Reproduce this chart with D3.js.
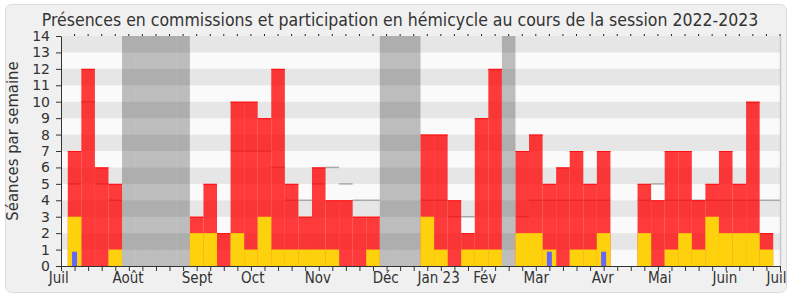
<!DOCTYPE html>
<html>
<head>
<meta charset="utf-8">
<script src="https://cdn.jsdelivr.net/npm/d3@7"></script>
<style>
  html, body { margin: 0; padding: 0; background: #ffffff; }
  svg { display: block; }
  text { font-family: 'DejaVu Sans Condensed', 'DejaVu Sans', sans-serif; font-stretch: condensed; fill: #333; }
  .ytick text { font-family: 'DejaVu Sans', sans-serif; font-stretch: normal; }
</style>
</head>
<body>
<svg id="chart" width="790" height="300"></svg>
<script>
// ---- data (week index 1..52 of the session) ----
const weeks = d3.range(1, 53);
const hemicycle = [7,12,6,5,0,0,0,0,0,3,5,2,10,10,9,12,5,3,6,4,4,3,3,0,0,0,8,8,4,2,9,12,0,7,8,5,6,7,5,7,0,0,5,4,7,7,4,5,7,5,10,2];
const commission = [3,0,0,1,0,0,0,0,0,2,2,0,2,1,3,1,1,1,1,1,0,0,1,0,0,0,3,1,0,1,1,1,0,2,2,1,0,1,1,2,0,0,2,0,1,2,1,3,2,2,2,1];
const questions = [0.87,0,0,0,0,0,0,0,0,0,0,0,0,0,0,0,0,0,0,0,0,0,0,0,0,0,0,0,0,0,0,0,0,0,0,0.87,0,0,0,0.87,0,0,0,0,0,0,0,0,0,0,0,0];
// median presence line per week 1..53 (null = not drawn)
const medianWeeks = d3.range(1, 54);
const median = [5,10,5,4,null,null,null,null,null,null,null,null,7,7,7,6,4,4,5,6,5,4,4,null,null,null,4,4,3,3,null,null,null,3,4,4,4,4,4,4,null,null,4,5,4,4,4,4,4,4,4,4,4];
const vacationWeeks = [5,6,7,8,9,24,25,26,33];
const monthLabels = ["Juil","Août","Sept","Oct","Nov","Déc","Jan 23","Fév","Mar","Avr","Mai","Juin","Juil"];
const monthWeeks = [-0.2,4.9,10,14.1,18.9,23.9,27.8,31.2,35,39.9,44.1,48.9,52.7];
const yTicks = d3.range(0, 15);
const title = "Présences en commissions et participation en hémicycle au cours de la session 2022-2023";
const yTitle = "Séances par semaine";

// ---- layout ----
const svg = d3.select("#chart");
const pLeft = 61, pRight = 780, pTop = 36, pBottom = 266;
const x = d3.scaleLinear().domain([0, 53]).range([pLeft, pRight]);
const y = d3.scaleLinear().domain([0, 14]).range([pBottom, pTop]);

// panel
svg.append("rect").attr("x", 5.5).attr("y", 4.5).attr("width", 781).attr("height", 288)
  .attr("rx", 6).attr("fill", "#f0f0f0").attr("stroke", "#dcdcdc");

// stripes
svg.append("g").selectAll("rect").data(d3.range(0, 14)).join("rect")
  .attr("x", pLeft).attr("width", pRight - pLeft)
  .attr("y", d => y(d + 1)).attr("height", d => y(d) - y(d + 1))
  .attr("fill", d => d % 2 === 1 ? "#e6e6e6" : "#fafafa");

// vacation columns
svg.append("g").selectAll("rect").data(vacationWeeks).join("rect")
  .attr("x", d => x(d - 0.5)).attr("width", d => x(d + 0.5) - x(d - 0.5))
  .attr("y", pTop).attr("height", pBottom - pTop)
  .attr("fill", "#000").attr("fill-opacity", 0.245);

// median lines
const medData = medianWeeks.map((w, i) => ({ w, v: median[i] })).filter(d => d.v !== null);
svg.append("g").selectAll("line").data(medData).join("line")
  .attr("x1", d => x(d.w - 0.5)).attr("x2", d => Math.min(pRight, x(d.w + 0.5)))
  .attr("y1", d => y(d.v)).attr("y2", d => y(d.v))
  .attr("stroke", "#a8a8a8").attr("stroke-width", 1.5);

// red bars (hemicycle)
const red = weeks.map((w, i) => ({ w, v: hemicycle[i] })).filter(d => d.v > 0);
svg.append("g").selectAll("rect").data(red).join("rect")
  .attr("x", d => x(d.w - 0.5)).attr("width", d => x(d.w + 0.5) - x(d.w - 0.5))
  .attr("y", d => y(d.v)).attr("height", d => y(0) - y(d.v))
  .attr("fill", "#ff0000").attr("fill-opacity", 0.77);
svg.append("g").selectAll("line").data(red).join("line")
  .attr("x1", d => x(d.w - 0.5)).attr("x2", d => x(d.w + 0.5))
  .attr("y1", d => y(d.v) + 0.5).attr("y2", d => y(d.v) + 0.5)
  .attr("stroke", "#ff1010").attr("stroke-width", 1);

// yellow bars (commission)
const yel = weeks.map((w, i) => ({ w, v: commission[i] })).filter(d => d.v > 0);
svg.append("g").selectAll("rect").data(yel).join("rect")
  .attr("x", d => x(d.w - 0.5)).attr("width", d => x(d.w + 0.5) - x(d.w - 0.5))
  .attr("y", d => y(d.v)).attr("height", d => y(0) - y(d.v))
  .attr("fill", "#fdd20c");

// blue bars
const blu = weeks.map((w, i) => ({ w, v: questions[i] })).filter(d => d.v > 0);
svg.append("g").selectAll("rect").data(blu).join("rect")
  .attr("x", d => x(d.w) - 2.5).attr("width", 5)
  .attr("y", d => y(d.v)).attr("height", d => y(0) - y(d.v))
  .attr("fill", "#6464ff");

// right border
svg.append("line").attr("x1", pRight + 0.5).attr("x2", pRight + 0.5).attr("y1", pTop).attr("y2", pBottom)
  .attr("stroke", "#c8c8c8").attr("stroke-width", 1.5);

// x axis: week ticks
const xAxisTicks = svg.append("g").attr("transform", `translate(0,${pBottom})`)
  .call(d3.axisBottom(x).tickValues(d3.range(0, 54)).tickSize(5).tickFormat("").tickSizeOuter(0));
xAxisTicks.select(".domain").attr("stroke", "#333");
xAxisTicks.selectAll(".tick line").attr("stroke", "#333");

// month labels
const xLab = svg.append("g").attr("transform", `translate(0,${pBottom})`)
  .call(d3.axisBottom(x).tickValues(monthWeeks).tickSize(0).tickPadding(6)
    .tickFormat((d, i) => monthLabels[i]));
xLab.select(".domain").remove();
xLab.selectAll("text").style("font-size", "15px").attr("fill", "#333");

// top ticks
svg.append("g").selectAll("line").data(d3.range(1, 54)).join("line")
  .attr("x1", d => x(d)).attr("x2", d => x(d)).attr("y1", pTop - 2).attr("y2", pTop)
  .attr("stroke", "#222").attr("stroke-width", 1);

// y axis
const yAxis = svg.append("g").attr("class", "ytick").attr("transform", `translate(${pLeft},0)`)
  .call(d3.axisLeft(y).tickValues(yTicks).tickSize(5).tickPadding(6).tickSizeOuter(0));
yAxis.select(".domain").attr("stroke", "#333");
yAxis.selectAll(".tick line").attr("stroke", "#333");
yAxis.selectAll("text").style("font-size", "14px").attr("fill", "#333");

// titles
svg.append("text").attr("x", 400).attr("y", 26).attr("text-anchor", "middle")
  .style("font-size", "17.5px").text(title);
svg.append("text").attr("transform", "translate(18,141) rotate(-90)").attr("text-anchor", "middle")
  .style("font-size", "16.5px").text(yTitle);
</script>
</body>
</html>
